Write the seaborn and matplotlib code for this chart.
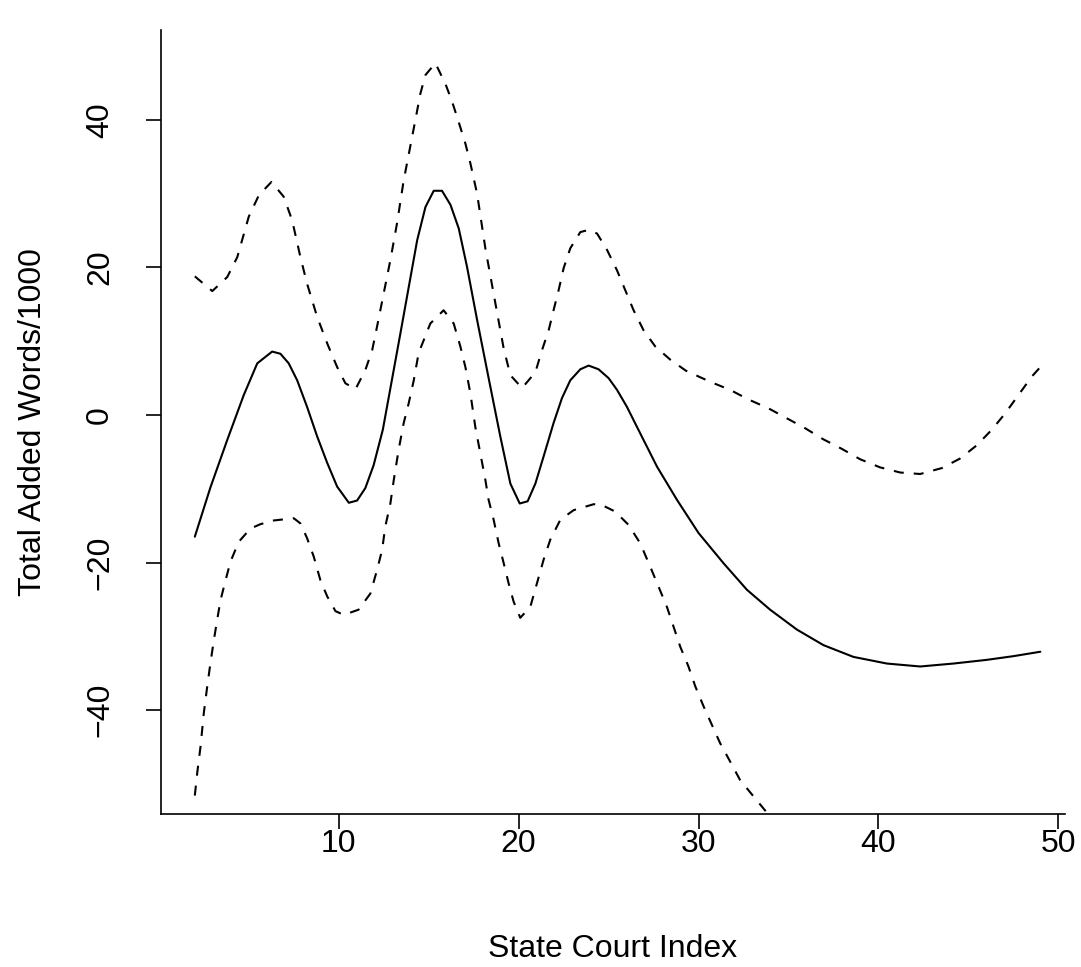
import numpy as np
import pandas as pd
import matplotlib
matplotlib.use("Agg")
import matplotlib.pyplot as plt
import seaborn as sns

# ---- data (State Court Index vs smooth fit) ----
fit_x = [2.0, 2.87, 3.80, 4.72, 5.47, 6.30, 6.76, 7.22, 7.69, 8.24, 8.80, 9.36, 9.91,
         10.56, 11.02, 11.48, 11.94, 12.45, 13.43, 14.36, 14.82, 15.28, 15.74, 16.21,
         16.67, 17.13, 17.69, 18.43, 18.98, 19.54, 20.06, 20.50, 20.93, 21.39, 21.94,
         22.41, 22.87, 23.43, 23.89, 24.44, 25.00, 25.47, 26.02, 26.76, 27.69, 28.80,
         30.00, 31.39, 32.69, 33.98, 35.47, 36.94, 38.61, 40.47, 42.32, 44.17, 46.02,
         47.50, 49.0]
fit_y = [-16.5, -9.8, -3.4, 2.7, 7.0, 8.6, 8.3, 7.0, 4.7, 1.1, -2.9, -6.5, -9.7,
         -11.9, -11.6, -9.9, -6.8, -2.0, 11.1, 23.7, 28.2, 30.4, 30.4, 28.5,
         25.3, 20.1, 12.9, 3.8, -2.9, -9.3, -12.0, -11.7, -9.3, -5.6, -1.1,
         2.3, 4.7, 6.2, 6.7, 6.2, 5.0, 3.4, 1.1, -2.5, -7.0, -11.5,
         -16.0, -20.1, -23.7, -26.4, -29.1, -31.2, -32.8, -33.7, -34.1, -33.7, -33.2,
         -32.7, -32.1]

upper_x = [2.0, 2.97, 3.80, 4.36, 5.00, 5.56, 6.26, 6.94, 7.41, 7.87, 8.24, 8.80, 9.36,
           9.91, 10.37, 10.93, 11.48, 11.86, 12.13, 12.50, 12.87, 13.24, 13.61, 14.26,
           14.54, 14.82, 15.37, 15.93, 16.30, 16.67, 17.04, 17.32, 17.69, 18.15, 18.71,
           19.17, 19.54, 20.19, 20.93, 21.30, 21.67, 21.94, 22.22, 22.50, 22.87, 23.43,
           23.89, 24.36, 24.91, 25.47, 25.93, 26.39, 26.94, 27.59, 28.43, 29.30, 30.65,
           31.76, 32.78, 33.89, 34.91, 35.93, 36.94, 37.97, 38.98, 40.09, 41.21, 42.32,
           43.52, 44.54, 45.47, 46.30, 47.04, 47.78, 48.52, 49.0]
upper_y = [18.8, 16.8, 18.7, 21.4, 26.9, 29.8, 31.6, 29.6, 26.4, 21.4, 17.8, 13.3, 9.7,
           6.5, 4.3, 3.5, 6.1, 8.8, 12.0, 16.5, 21.0, 26.0, 31.8, 40.0,
           43.6, 46.1, 47.7, 44.9, 42.5, 39.7, 36.8, 34.1, 30.0, 22.6, 15.1,
           9.0, 5.4, 3.65, 5.8, 8.8, 11.5, 14.2, 16.9, 19.9, 22.6, 24.8,
           25.1, 24.6, 22.4, 19.6, 16.9, 14.2, 11.5, 9.3, 7.5, 6.0, 4.5,
           3.4, 2.1, 0.9, -0.45, -1.8, -3.3, -4.6, -6.0, -7.1, -7.8, -8.0,
           -7.2, -5.9, -4.1, -2.0, 0.2, 2.7, 5.2, 6.5]

lower_x = [2.0, 2.13, 2.32, 2.50, 2.69, 2.87, 3.06, 3.24, 3.43, 3.71, 3.98, 4.44, 5.09,
           5.65, 6.39, 7.50, 7.87, 8.24, 8.61, 8.98, 9.36, 9.82, 10.28, 11.10, 11.76,
           12.13, 12.41, 12.59, 12.87, 13.06, 13.33, 13.61, 13.89, 14.17, 14.44, 15.09,
           15.83, 16.39, 16.76, 17.04, 17.32, 17.59, 17.87, 18.15, 18.33, 18.61, 18.89,
           19.17, 19.44, 19.72, 20.09, 20.65, 21.02, 21.39, 21.76, 22.32, 23.06, 24.17,
           24.54, 25.37, 26.11, 26.76, 27.32, 27.78, 28.24, 28.61, 28.98, 29.44, 29.82,
           30.28, 30.74, 31.20, 31.76, 32.31, 33.76, 34.50, 35.50]
lower_y = [-51.6, -48.6, -44.9, -40.4, -36.8, -33.6, -30.5, -27.8, -25.1, -22.4, -19.9, -17.2, -15.4,
           -14.8, -14.3, -14.0, -14.7, -16.7, -19.2, -22.4, -24.6, -26.6, -27.1, -26.4, -24.2,
           -21.0, -18.3, -15.1, -12.0, -8.8, -4.7, -1.1, 1.6, 4.7, 8.4, 12.4,
           14.2, 12.4, 9.3, 6.5, 2.9, -1.6, -5.2, -8.8, -11.5, -14.2, -17.4,
           -20.1, -22.8, -25.3, -27.5, -26.0, -22.8, -19.6, -16.9, -14.2, -12.9, -12.1,
           -12.1, -13.1, -14.9, -17.4, -20.6, -23.3, -26.0, -28.7, -31.4, -34.1, -36.8,
           -39.5, -42.0, -44.5, -47.0, -49.5, -53.8, -56.0, -59.0]

x_ticks = [10, 20, 30, 40, 50]
y_ticks = [-40, -20, 0, 20, 40]
x_label = "State Court Index"
y_label = "Total Added Words/1000"

# ---- figure ----
sns.set_style("ticks")
plt.rcParams["font.family"] = ["Liberation Sans", "DejaVu Sans"]

W, H = 1081, 967
fig = plt.figure(figsize=(W / 100, H / 100), dpi=100)
ax = fig.add_axes([161 / W, 1 - 814 / H, (1065 - 161) / W, (814 - 30) / H])

lw = 1.5
sns.lineplot(x=fit_x, y=fit_y, ax=ax, color="black", linewidth=lw)
sns.lineplot(x=upper_x, y=upper_y, ax=ax, color="black", linewidth=lw)
sns.lineplot(x=lower_x, y=lower_y, ax=ax, color="black", linewidth=lw)
for ln in ax.lines[1:]:
    ln.set_dashes((4.8, 4.8))

ax.set_xlim(0.12, 50.37)
ax.set_ylim(-54.1, 52.2)
ax.set_xticks(x_ticks)
ax.set_yticks(y_ticks)
ax.set_yticklabels([("\u2212" + str(-t)) if t < 0 else str(t) for t in y_ticks],
                   rotation=90, va="center")

for s in ["top", "right"]:
    ax.spines[s].set_visible(False)
for s in ["left", "bottom"]:
    ax.spines[s].set_linewidth(1.2)
    ax.spines[s].set_color("black")

fs = 23
ax.tick_params(axis="both", direction="out", length=11, width=1.2, colors="black",
               labelsize=fs, bottom=True, left=True)
ax.tick_params(axis="x", pad=0)
ax.tick_params(axis="y", pad=22)

ax.set_xlabel(x_label, fontsize=fs, labelpad=54, color="black")
ax.set_ylabel(y_label, fontsize=fs, labelpad=27, color="black")
ax.grid(False)

fig.savefig("out.png", dpi=100)
